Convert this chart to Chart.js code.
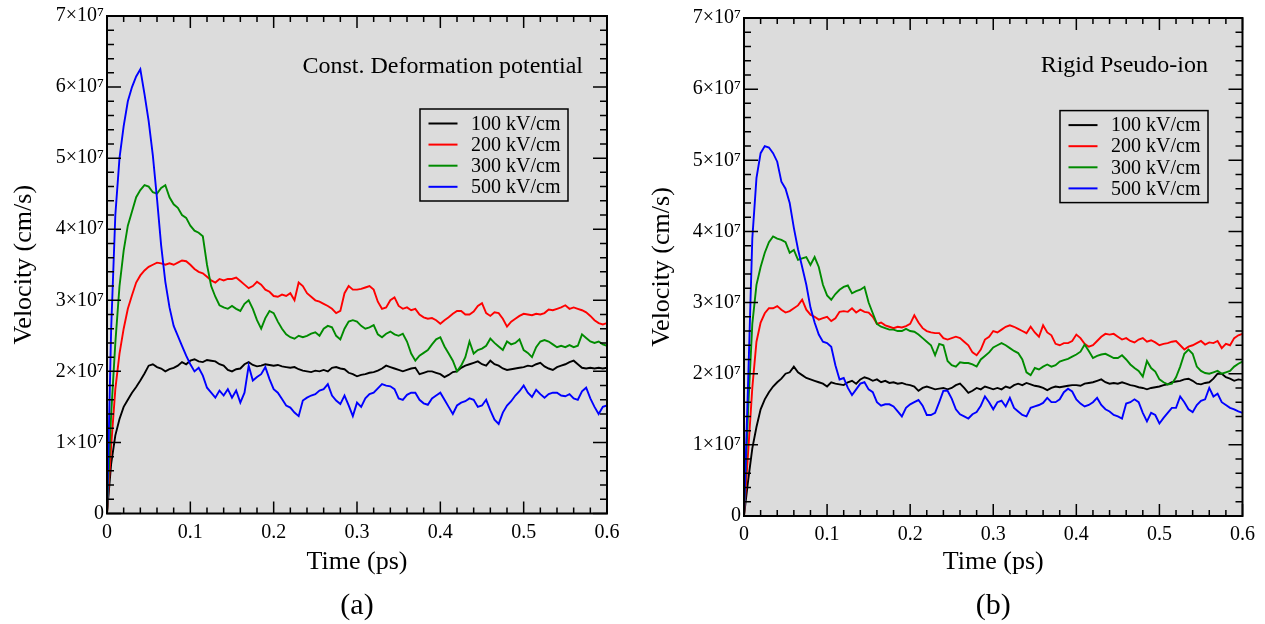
<!DOCTYPE html>
<html>
<head>
<meta charset="utf-8">
<title>Drift velocity vs time</title>
<script src="https://cdn.jsdelivr.net/npm/chart.js@4.4.1/dist/chart.umd.min.js"></script>
<style>
  html, body { margin: 0; padding: 0; background: #fff; }
  .panel { position: absolute; top: 0; height: 624px; }
  #panelA { left: 0; width: 632px; }
  #panelB { left: 632px; width: 633px; }
</style>
</head>
<body>
<div class="panel" id="panelA"><canvas id="chartA"></canvas></div>
<div class="panel" id="panelB"><canvas id="chartB"></canvas></div>
<script>
// ── Data (velocity in units of 1e7 cm/s, time in ps) ──────────────────────────
const UNIT = 1e7;
const FIELDS = ['100 kV/cm', '200 kV/cm', '300 kV/cm', '500 kV/cm'];
const COLORS = ['#000000', '#ff0000', '#008b00', '#0000ff'];

const TIME = [
  0, 0.005, 0.01, 0.015, 0.02, 0.025, 0.03, 0.035, 0.04, 0.045, 0.05, 0.055, 0.06, 0.065, 0.07, 0.075, 0.08, 0.085, 0.09, 0.095, 0.1,
  0.105, 0.11, 0.115, 0.12, 0.125, 0.13, 0.135, 0.14, 0.145, 0.15, 0.155, 0.16, 0.165, 0.17, 0.175, 0.18, 0.185, 0.19, 0.195, 0.2,
  0.205, 0.21, 0.215, 0.22, 0.225, 0.23, 0.235, 0.24, 0.245, 0.25, 0.255, 0.26, 0.265, 0.27, 0.275, 0.28, 0.285, 0.29, 0.295, 0.3,
  0.305, 0.31, 0.315, 0.32, 0.325, 0.33, 0.335, 0.34, 0.345, 0.35, 0.355, 0.36, 0.365, 0.37, 0.375, 0.38, 0.385, 0.39, 0.395, 0.4,
  0.405, 0.41, 0.415, 0.42, 0.425, 0.43, 0.435, 0.44, 0.445, 0.45, 0.455, 0.46, 0.465, 0.47, 0.475, 0.48, 0.485, 0.49, 0.495, 0.5,
  0.505, 0.51, 0.515, 0.52, 0.525, 0.53, 0.535, 0.54, 0.545, 0.55, 0.555, 0.56, 0.565, 0.57, 0.575, 0.58, 0.585, 0.59, 0.595, 0.6,
];

// (a) Const. Deformation potential
const A_100 = [
  0, 0.7, 1.1, 1.33, 1.5, 1.6, 1.7, 1.78, 1.87, 1.97, 2.08, 2.1, 2.06, 2.04, 2.0, 2.03, 2.05, 2.08, 2.13, 2.1, 2.15,
  2.17, 2.14, 2.13, 2.16, 2.15, 2.14, 2.1, 2.08, 2.02, 2.0, 2.03, 2.04, 2.1, 2.13, 2.09, 2.07, 2.08, 2.1, 2.09, 2.08,
  2.09, 2.07, 2.06, 2.05, 2.06, 2.03, 2.01, 2.0, 1.99, 2.01, 2.0, 2.02, 2.0, 2.05, 2.06, 2.04, 2.03, 1.98, 1.96, 1.93,
  1.95, 1.96, 1.98, 1.99, 2.01, 2.04, 2.08, 2.06, 2.04, 2.02, 2.0, 2.02, 2.04, 2.05, 1.96, 1.98, 2.0, 2.0, 1.98, 1.96,
  1.92, 1.95, 1.99, 2.0, 2.05, 2.08, 2.1, 2.12, 2.14, 2.1, 2.08, 2.15, 2.1, 2.08, 2.04, 2.02, 2.03, 2.04, 2.05, 2.06,
  2.08, 2.07, 2.1, 2.12, 2.07, 2.04, 2.02, 2.06, 2.08, 2.1, 2.13, 2.15, 2.1, 2.05, 2.04, 2.05, 2.04, 2.05, 2.04, 2.05,
];
const A_200 = [
  0, 0.95, 1.75, 2.25, 2.6, 2.88, 3.07, 3.25, 3.35, 3.42, 3.47, 3.5, 3.53, 3.52, 3.5, 3.52, 3.5, 3.53, 3.56, 3.55, 3.5,
  3.44, 3.4, 3.38, 3.33, 3.28, 3.25, 3.3, 3.28, 3.3, 3.3, 3.32, 3.27, 3.22, 3.17, 3.2, 3.26, 3.22, 3.15, 3.12, 3.06,
  3.05, 3.08, 3.06, 3.1, 3.0, 3.25, 3.2, 3.1, 3.05, 3.0, 2.98, 2.95, 2.92, 2.88, 2.82, 2.85, 3.1, 3.2, 3.15, 3.15,
  3.16, 3.18, 3.2, 3.15, 2.98, 2.88, 2.9, 3.0, 3.04, 2.92, 2.88, 2.9, 2.86, 2.88, 2.8, 2.76, 2.74, 2.75, 2.72, 2.67,
  2.72, 2.76, 2.81, 2.85, 2.85, 2.8, 2.8, 2.84, 2.92, 2.96, 2.82, 2.78, 2.83, 2.82, 2.74, 2.63, 2.7, 2.74, 2.78, 2.81,
  2.8, 2.79, 2.81, 2.8, 2.82, 2.87, 2.86, 2.88, 2.9, 2.93, 2.88, 2.9, 2.88, 2.86, 2.83, 2.78, 2.72, 2.68, 2.66, 2.68,
];
const A_300 = [
  0, 1.4, 2.4, 3.2, 3.7, 4.05, 4.25, 4.45, 4.55, 4.62, 4.6, 4.52, 4.5, 4.58, 4.62, 4.45, 4.35, 4.3, 4.2, 4.16, 4.05,
  3.98, 3.95, 3.9, 3.5, 3.2, 3.05, 2.93, 2.9, 2.88, 2.92, 2.88, 2.85, 2.95, 3.0, 2.88, 2.72, 2.6, 2.75, 2.85, 2.82,
  2.7, 2.6, 2.52, 2.48, 2.46, 2.5, 2.48, 2.5, 2.53, 2.55, 2.5, 2.6, 2.64, 2.62, 2.5, 2.45, 2.6, 2.7, 2.72, 2.7,
  2.64, 2.6, 2.62, 2.65, 2.52, 2.48, 2.53, 2.56, 2.52, 2.5, 2.53, 2.42, 2.25, 2.15, 2.22, 2.26, 2.3, 2.38, 2.45, 2.48,
  2.35, 2.25, 2.15, 2.0, 2.08, 2.2, 2.42, 2.25, 2.3, 2.32, 2.36, 2.46, 2.4, 2.35, 2.3, 2.42, 2.38, 2.4, 2.45, 2.3,
  2.26, 2.2, 2.34, 2.42, 2.44, 2.42, 2.38, 2.34, 2.36, 2.34, 2.37, 2.34, 2.36, 2.52, 2.47, 2.42, 2.4, 2.42, 2.38, 2.36,
];
const A_500 = [
  0, 2.6, 4.2, 5.0, 5.45, 5.8, 6.0, 6.15, 6.25, 5.9, 5.52, 5.04, 4.43, 3.77, 3.26, 2.9, 2.64, 2.5, 2.36, 2.22, 2.1,
  2.0, 2.05, 1.94, 1.77, 1.7, 1.63, 1.73, 1.66, 1.75, 1.63, 1.73, 1.56, 1.7, 2.08, 1.87, 1.92, 1.96, 2.06, 1.89, 1.75,
  1.7, 1.61, 1.52, 1.49, 1.42, 1.37, 1.59, 1.63, 1.66, 1.68, 1.73, 1.75, 1.82, 1.66, 1.59, 1.54, 1.66, 1.52, 1.37, 1.56,
  1.5, 1.62, 1.68, 1.7, 1.76, 1.82, 1.8, 1.79, 1.75, 1.62, 1.6, 1.67, 1.7, 1.7, 1.6, 1.55, 1.53, 1.62, 1.66, 1.7,
  1.6, 1.5, 1.4, 1.52, 1.56, 1.58, 1.62, 1.6, 1.5, 1.52, 1.6, 1.45, 1.32, 1.26, 1.42, 1.52, 1.58, 1.66, 1.72, 1.8,
  1.7, 1.64, 1.74, 1.68, 1.63, 1.68, 1.7, 1.7, 1.66, 1.65, 1.68, 1.62, 1.6, 1.72, 1.77, 1.62, 1.5, 1.4, 1.5, 1.52,
];

// (b) Rigid Pseudo-ion
const B_100 = [
  0, 0.5, 0.95, 1.25, 1.5, 1.64, 1.74, 1.82, 1.88, 1.93, 2.0, 2.02, 2.1, 2.02, 1.98, 1.94, 1.92, 1.9, 1.88, 1.86, 1.82,
  1.88, 1.86, 1.85, 1.84, 1.88, 1.9, 1.86, 1.92, 1.95, 1.93, 1.9, 1.92, 1.88, 1.9, 1.87, 1.88, 1.86, 1.87, 1.85, 1.84,
  1.82, 1.76, 1.8, 1.82, 1.8, 1.78, 1.79, 1.8, 1.78, 1.8, 1.84, 1.86, 1.8, 1.73, 1.76, 1.8, 1.78, 1.82, 1.8, 1.78,
  1.8, 1.78, 1.82, 1.8, 1.84, 1.86, 1.84, 1.87, 1.85, 1.83, 1.82, 1.8, 1.77, 1.8, 1.82, 1.81, 1.82, 1.83, 1.84, 1.84,
  1.83, 1.86, 1.87, 1.88, 1.9, 1.92, 1.88, 1.86, 1.87, 1.86, 1.88, 1.86, 1.84, 1.83, 1.81, 1.8, 1.78, 1.8, 1.81, 1.82,
  1.84, 1.85, 1.88, 1.89, 1.9, 1.92, 1.93, 1.9, 1.86, 1.85, 1.87, 1.88, 1.93, 2.0, 2.0, 1.95, 1.93, 1.9, 1.92, 1.91,
];
const B_200 = [
  0, 0.9, 1.8, 2.45, 2.72, 2.85, 2.92, 2.92, 2.95, 2.9, 2.86, 2.88, 2.92, 2.96, 3.04, 2.9, 2.83, 2.8, 2.76, 2.78, 2.8,
  2.74, 2.78, 2.87, 2.88, 2.87, 2.92, 2.86, 2.9, 2.87, 2.86, 2.8, 2.7, 2.72, 2.68, 2.66, 2.64, 2.66, 2.65, 2.67, 2.7,
  2.82, 2.72, 2.64, 2.6, 2.58, 2.57, 2.57, 2.5, 2.48, 2.5, 2.52, 2.5, 2.45, 2.4, 2.3, 2.26, 2.34, 2.48, 2.52, 2.6,
  2.58, 2.62, 2.66, 2.68, 2.66, 2.63, 2.6, 2.57, 2.66, 2.58, 2.52, 2.68, 2.58, 2.54, 2.42, 2.4, 2.43, 2.43, 2.46, 2.55,
  2.5, 2.42, 2.38, 2.4, 2.46, 2.52, 2.56, 2.55, 2.56, 2.52, 2.48, 2.5, 2.46, 2.44, 2.48, 2.5, 2.45, 2.47, 2.44, 2.4,
  2.42, 2.43, 2.45, 2.46, 2.4, 2.34, 2.38, 2.4, 2.43, 2.46, 2.41, 2.44, 2.43, 2.46, 2.36, 2.42, 2.4, 2.5, 2.54, 2.56,
];
const B_300 = [
  0, 1.5, 2.7, 3.25, 3.5, 3.7, 3.85, 3.93, 3.9, 3.88, 3.85, 3.7, 3.74, 3.6, 3.62, 3.64, 3.53, 3.64, 3.5, 3.25, 3.1,
  3.04, 3.12, 3.18, 3.22, 3.24, 3.13, 3.16, 3.18, 3.22, 3.0, 2.85, 2.7, 2.66, 2.64, 2.62, 2.62, 2.6, 2.6, 2.63, 2.6,
  2.59, 2.55, 2.5, 2.45, 2.4, 2.26, 2.42, 2.4, 2.18, 2.12, 2.1, 2.16, 2.15, 2.15, 2.13, 2.1, 2.2, 2.25, 2.3, 2.37,
  2.4, 2.43, 2.4, 2.36, 2.32, 2.29, 2.2, 2.02, 1.98, 2.08, 2.06, 2.1, 2.13, 2.1, 2.12, 2.17, 2.19, 2.21, 2.24, 2.27,
  2.31, 2.41, 2.32, 2.22, 2.25, 2.27, 2.28, 2.25, 2.22, 2.22, 2.26, 2.2, 2.13, 2.08, 2.04, 1.96, 2.18, 2.08, 2.03, 1.92,
  1.88, 1.85, 1.86, 1.95, 2.1, 2.28, 2.34, 2.28, 2.1, 2.04, 2.01, 2.0, 2.02, 2.04, 2.0, 2.02, 2.04, 2.1, 2.14, 2.17,
];
const B_500 = [
  0, 1.9, 3.9, 4.75, 5.1, 5.2, 5.18, 5.1, 4.98, 4.7, 4.6, 4.4, 4.05, 3.75, 3.5, 3.25, 2.93, 2.72, 2.55, 2.45, 2.43,
  2.38, 2.12, 1.92, 1.94, 1.8, 1.7, 1.78, 1.86, 1.88, 1.78, 1.74, 1.6, 1.55, 1.57, 1.57, 1.54, 1.47, 1.4, 1.52, 1.57,
  1.6, 1.63, 1.55, 1.42, 1.42, 1.45, 1.6, 1.76, 1.76, 1.65, 1.5, 1.43, 1.4, 1.37, 1.43, 1.46, 1.55, 1.68, 1.6, 1.5,
  1.6, 1.62, 1.54, 1.66, 1.52, 1.47, 1.42, 1.4, 1.52, 1.54, 1.56, 1.59, 1.66, 1.6, 1.6, 1.64, 1.74, 1.79, 1.75, 1.64,
  1.58, 1.54, 1.56, 1.6, 1.66, 1.56, 1.5, 1.47, 1.42, 1.4, 1.37, 1.58, 1.6, 1.64, 1.6, 1.45, 1.33, 1.45, 1.42, 1.3,
  1.38, 1.45, 1.52, 1.52, 1.68, 1.6, 1.5, 1.46, 1.56, 1.62, 1.64, 1.8, 1.68, 1.72, 1.6, 1.56, 1.52, 1.5, 1.47, 1.45,
];

// ── Look ──────────────────────────────────────────────────────────────────────
const SERIF = '"Liberation Serif", "Times New Roman", serif';
const PLOT_BG = '#dcdcdc';
Chart.defaults.font.family = SERIF;
Chart.defaults.color = '#000';

// Grace-style frame: grey plot area, inward ticks on all four sides,
// an in-plot note and a boxed legend.
const graceFrame = {
  id: 'graceFrame',
  beforeDatasetsDraw(chart) {
    const { ctx, chartArea: a } = chart;
    ctx.save();
    ctx.fillStyle = PLOT_BG;
    ctx.fillRect(a.left, a.top, a.right - a.left, a.bottom - a.top);
    ctx.restore();
  },
  afterDatasetsDraw(chart, _args, opts) {
    const { ctx, chartArea: a, scales: { x, y } } = chart;
    ctx.save();
    ctx.strokeStyle = '#000';
    ctx.lineWidth = 1.5;
    ctx.beginPath();
    for (let i = 0; i <= 30; i++) {
      const px = x.getPixelForValue(i * 0.02);
      const len = i % 5 === 0 ? 12 : 6;
      ctx.moveTo(px, a.bottom); ctx.lineTo(px, a.bottom - len);
      ctx.moveTo(px, a.top);    ctx.lineTo(px, a.top + len);
    }
    for (let i = 0; i <= 35; i++) {
      const py = y.getPixelForValue(i * 2e6);
      const len = i % 5 === 0 ? 14 : 7;
      ctx.moveTo(a.left, py);  ctx.lineTo(a.left + len, py);
      ctx.moveTo(a.right, py); ctx.lineTo(a.right - len, py);
    }
    ctx.stroke();
    ctx.lineWidth = 2;
    ctx.strokeRect(a.left, a.top, a.right - a.left, a.bottom - a.top);

    // note in the top-right corner
    ctx.fillStyle = '#000';
    ctx.font = `24px ${SERIF}`;
    ctx.textAlign = 'right';
    ctx.textBaseline = 'middle';
    ctx.fillText(opts.note, a.right - opts.noteRight, a.top + opts.noteY);

    // legend box
    const bw = 148, bh = 92;
    const bx = a.right - opts.legendRight - bw;
    const by = a.top + opts.legendTop;
    ctx.lineWidth = 1.5;
    ctx.strokeRect(bx, by, bw, bh);
    ctx.font = `20px ${SERIF}`;
    ctx.textAlign = 'left';
    chart.data.datasets.forEach((ds, i) => {
      const ry = by + 14.5 + i * 21.1;
      ctx.strokeStyle = ds.borderColor;
      ctx.lineWidth = 2;
      ctx.beginPath();
      ctx.moveTo(bx + 8.5, ry); ctx.lineTo(bx + 37.5, ry);
      ctx.stroke();
      ctx.fillText(ds.label, bx + 51, ry + 1);
    });
    ctx.restore();
  },
};

function makeChart(canvasId, series, cfg) {
  return new Chart(document.getElementById(canvasId), {
    type: 'line',
    data: {
      datasets: series.map((vals, i) => ({
        label: FIELDS[i],
        data: vals.map((v, k) => ({ x: TIME[k], y: v * UNIT })),
        borderColor: COLORS[i],
        borderWidth: 1.9,
        pointRadius: 0,
        tension: 0,
        order: series.length - 1 - i, // blue ends up on top
      })),
    },
    options: {
      responsive: true,
      maintainAspectRatio: false,
      animation: false,
      layout: { padding: { top: cfg.padTop, right: cfg.padRight, left: 0, bottom: 0 } },
      plugins: {
        legend: { display: false },
        tooltip: { enabled: false },
        title: {
          display: true, text: cfg.caption, position: 'bottom', fullSize: false,
          font: { size: 30, weight: 'normal' }, padding: { top: 6, bottom: 0 },
        },
        graceFrame: cfg.frame,
      },
      scales: {
        x: {
          type: 'linear', min: 0, max: 0.6,
          grid: { display: false, drawTicks: false },
          border: { display: false },
          ticks: {
            stepSize: 0.1, padding: 7, maxRotation: 0, font: { size: 20 },
            callback: v => (v === 0 ? '0' : v.toFixed(1)),
          },
          title: { display: true, text: 'Time (ps)', font: { size: 26 }, padding: { top: 0, bottom: 4 } },
          afterFit: s => { s.height = cfg.xHeight; },
        },
        y: {
          min: 0, max: 7e7,
          grid: { display: false, drawTicks: false },
          border: { display: false },
          ticks: {
            stepSize: 1e7, padding: 3, font: { size: 20 },
            callback: v => (v === 0 ? '0' : `${Math.round(v / UNIT)}×10⁷`),
          },
          title: { display: true, text: 'Velocity (cm/s)', font: { size: 26 }, padding: { top: cfg.yTitlePad, bottom: 0 } },
          afterFit: s => { s.width = cfg.yWidth; },
        },
      },
    },
    plugins: [graceFrame],
  });
}

// ── Boot ──────────────────────────────────────────────────────────────────────
makeChart('chartA', [A_100, A_200, A_300, A_500], {
  caption: '(a)', padTop: 16, padRight: 25, xHeight: 68.5, yWidth: 107, yTitlePad: 8.4,
  frame: { note: 'Const. Deformation potential', noteRight: 24, noteY: 51, legendRight: 39, legendTop: 93 },
});
makeChart('chartB', [B_100, B_200, B_300, B_500], {
  caption: '(b)', padTop: 18, padRight: 22.5, xHeight: 66, yWidth: 112, yTitlePad: 14.4,
  frame: { note: 'Rigid Pseudo-ion', noteRight: 34.5, noteY: 48, legendRight: 34.5, legendTop: 92.6 },
});
</script>
</body>
</html>
